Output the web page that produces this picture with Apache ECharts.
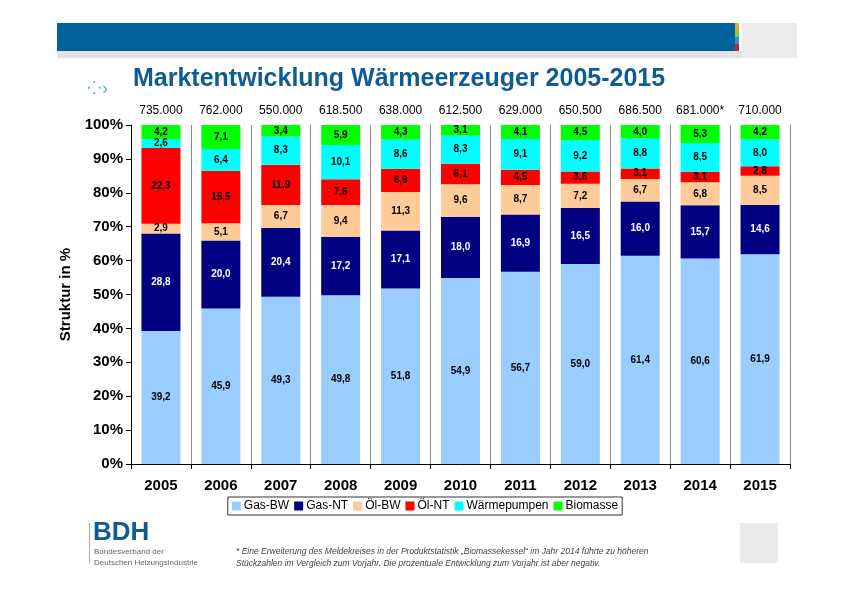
<!DOCTYPE html>
<html><head><meta charset="utf-8">
<script src="https://cdn.jsdelivr.net/npm/echarts@6/dist/echarts.min.js"></script>
<style>html,body{margin:0;padding:0;background:#fff}#c{width:850px;height:597px}</style>
</head><body><div id="c"></div>
<script>
const years = ['2005','2006','2007','2008','2009','2010','2011','2012','2013','2014','2015'];
const totals = ['735.000','762.000','550.000','618.500','638.000','612.500','629.000','650.500','686.500','681.000*','710.000'];
const gasBW = [39.2,45.9,49.3,49.8,51.8,54.9,56.7,59.0,61.4,60.6,61.9];
const gasNT = [28.8,20.0,20.4,17.2,17.1,18.0,16.9,16.5,16.0,15.7,14.6];
const oelBW = [2.9,5.1,6.7,9.4,11.3,9.6,8.7,7.2,6.7,6.8,8.5];
const oelNT = [22.3,15.5,11.9,7.6,6.9,6.1,4.5,3.6,3.1,3.1,2.8];
const waerme = [2.6,6.4,8.3,10.1,8.6,8.3,9.1,9.2,8.8,8.5,8.0];
const bio = [4.2,7.1,3.4,5.9,4.3,3.1,4.1,4.5,4.0,5.3,4.2];

const names = ['Gas-BW','Gas-NT','Öl-BW','Öl-NT','Wärmepumpen','Biomasse'];
const data = [gasBW,gasNT,oelBW,oelNT,waerme,bio];
const colors = ['#99ccff','#000080','#ffcc99','#ff0000','#00ffff','#00ff00'];
const labelColors = ['#000','#fff','#000','#000','#000','#000'];

const chart = echarts.init(document.getElementById('c'));
const font = 'Liberation Sans, Arial, sans-serif';
chart.setOption({
  animation:false,
  textStyle:{fontFamily:font},
  grid:{left:131,right:60,top:125,bottom:133},
  xAxis:[{type:'category',data:years,axisTick:{show:true,length:5,lineStyle:{color:'#000'}},
    axisLine:{lineStyle:{color:'#000'}},
    axisLabel:{color:'#000',fontSize:15,fontWeight:'bold',margin:14,fontFamily:font,interval:0},
    splitLine:{show:true,lineStyle:{color:'#888'}}},
   {type:'category',data:totals,position:'top',axisLine:{show:false},axisTick:{show:false},
    axisLabel:{color:'#000',fontSize:12,margin:8,fontFamily:font,interval:0}}],
  yAxis:{type:'value',min:0,max:100,interval:10,
    name:'Struktur in %',nameLocation:'middle',nameGap:42,nameRotate:90,
    nameTextStyle:{fontSize:15,fontWeight:'bold',color:'#000'},
    axisLine:{show:true,lineStyle:{color:'#000'}},axisTick:{show:true,length:5},
    axisLabel:{formatter:'{value}%',color:'#000',fontSize:15,fontWeight:'bold'},
    splitLine:{show:false}},
  legend:{bottom:82,left:'center',itemWidth:9,itemHeight:9,itemGap:5,
    borderColor:'#333',borderWidth:1,padding:[3,4],borderRadius:0,
    textStyle:{fontSize:12,color:'#000',padding:[0,0,0,-2]},
    data:names.map(n=>({name:n,icon:'rect'}))},
  graphic:[
    {type:'rect',shape:{x:57,y:23,width:678,height:28},style:{fill:'#00629b'}},
    {type:'rect',shape:{x:57,y:51,width:740,height:7},style:{fill:'#e3e3e3'}},
    {type:'rect',shape:{x:742,y:23,width:55,height:35},style:{fill:'#ececec'}},
    {type:'rect',shape:{x:735,y:23,width:4,height:7},style:{fill:'#f7a21b'}},
    {type:'rect',shape:{x:735,y:30,width:4,height:7},style:{fill:'#8dc63f'}},
    {type:'rect',shape:{x:735,y:37,width:4,height:7},style:{fill:'#3d8fd6'}},
    {type:'rect',shape:{x:735,y:44,width:4,height:7},style:{fill:'#c1272d'}},
    {type:'text',left:133,top:67,style:{text:'Marktentwicklung Wärmeerzeuger 2005-2015',fontSize:25,fontWeight:'bold',fill:'#0f5b93',fontFamily:font}},
    {type:'text',left:87,top:80,style:{text:'⁘›',fontSize:18,fill:'#7aa6cf'}},
    {type:'text',left:93,top:520,style:{text:'BDH',fontSize:26,fontWeight:'bold',fill:'#0f5b93',fontFamily:font}},
    {type:'rect',shape:{x:89,y:523,width:1,height:40},style:{fill:'#aaa'}},
    {type:'text',left:94,top:546,style:{text:'Bundesverband der\nDeutschen Heizungsindustrie',fontSize:8,lineHeight:11,fill:'#666',fontFamily:font}},
    {type:'text',left:236,top:546,style:{text:'* Eine Erweiterung des Meldekreises in der Produktstatistik „Biomassekessel“ im Jahr 2014 führte zu höheren\nStückzahlen im Vergleich zum Vorjahr. Die prozentuale Entwicklung zum Vorjahr ist aber negativ.',fontSize:8.5,lineHeight:12,fontStyle:'italic',fill:'#444',fontFamily:font}},
    {type:'rect',shape:{x:740,y:523,width:38,height:40},style:{fill:'#ebebeb'}}
  ],
  series:names.map((n,i)=>({name:n,type:'bar',stack:'s',barWidth:39,data:data[i],
    itemStyle:{color:colors[i]},
    label:{show:true,position:'inside',formatter:p=>p.value.toFixed(1).replace('.',','),
      fontSize:10,fontWeight:'bold',color:labelColors[i]}}))
});
</script></body></html>
